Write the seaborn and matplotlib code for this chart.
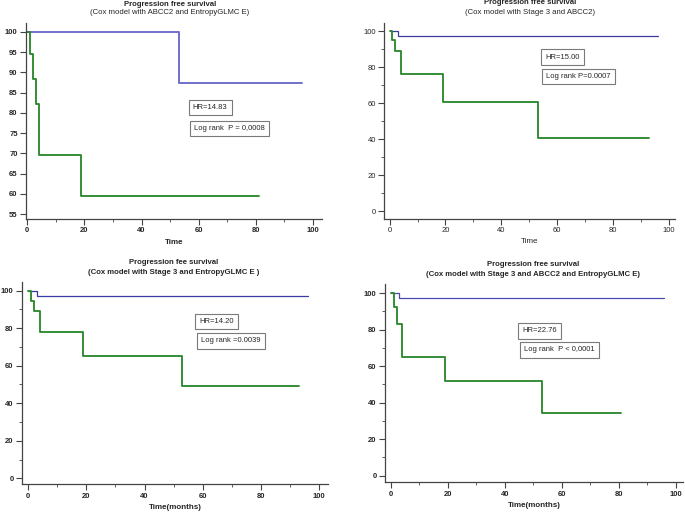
import matplotlib
matplotlib.use("Agg")
import matplotlib.pyplot as plt
import seaborn as sns
from matplotlib.ticker import MultipleLocator

sns.set_style("ticks")
plt.rcParams["font.family"] = ["Liberation Sans", "DejaVu Sans"]

# Kaplan-Meier style step data (time in months, survival %)
times_blue_1 = [0, 53, 96]
surv_blue_1 = [100, 87.5, 87.5]
times_green_1 = [0, 1, 2, 3, 4, 19, 81]
surv_green_1 = [100, 94.5, 88.5, 82.2, 69.6, 59.6, 59.6]

times_blue_2 = [0, 3, 96]
surv_blue_2 = [100, 97.2, 97.2]
times_green_2 = [0, 1, 2, 4, 19, 53, 93]
surv_green_2 = [100, 94.9, 88.7, 76.2, 60.7, 40.6, 40.6]

times_blue_3 = [0, 3, 96]
surv_blue_3 = [100, 97.4, 97.4]
times_green_3 = [0, 1, 2, 4, 19, 53, 93]
surv_green_3 = [100, 94.7, 89.3, 78.2, 65.4, 49.1, 49.1]

times_blue_4 = [0, 3, 96]
surv_blue_4 = [100, 97.5, 97.5]
times_green_4 = [0, 1, 2, 4, 19, 53, 81]
surv_green_4 = [100, 92.3, 83.1, 64.8, 51.9, 34.5, 34.5]

titles = ["Progression free survival", "Progression free survival",
          "Progression fee survival", "Progression free survival"]
subtitles = ["(Cox model with ABCC2 and EntropyGLMC E)",
             "(Cox model with Stage 3 and ABCC2)",
             "(Cox model with Stage 3 and EntropyGLMC E )",
             "(Cox model with Stage 3 and ABCC2 and EntropyGLMC E)"]
hr_texts = ["HR=14.83", "HR=15.00", "HR=14.20", "HR=22.76"]
logrank_texts = ["Log rank  P = 0,0008", "Log rank P=0.0007",
                 "Log rank =0.0039", "Log rank  P < 0,0001"]
xlabels = ["Time", "Time", "Time(months)", "Time(months)"]

panels = [
    (times_blue_1, surv_blue_1, times_green_1, surv_green_1),
    (times_blue_2, surv_blue_2, times_green_2, surv_green_2),
    (times_blue_3, surv_blue_3, times_green_3, surv_green_3),
    (times_blue_4, surv_blue_4, times_green_4, surv_green_4),
]

# layout / style per panel
rects = [[0.038, 0.573, 0.432, 0.382], [0.561, 0.574, 0.424, 0.381],
         [0.032, 0.056, 0.447, 0.395], [0.562, 0.060, 0.435, 0.386]]
xlims = [(-0.4, 103.1), (-1.9, 102.1), (-2.1, 103.0), (-2.1, 102.6)]
ylims = [(53.8, 102.2), (-3.9, 104.4), (-3.2, 104.8), (-3.6, 104.9)]
hr_pos = [(64, 81.3), (62, 85.6), (64.8, 83.5), (52.3, 79.3)]
lr_pos = [(70.7, 76.2), (67.5, 74.7), (69.6, 73.2), (59.1, 68.9)]
title_xy = [(170, 4, 13), (530, 3, 13), (174, 262, 272), (533, 265, 275)]
bold_ticks = [True, False, True, True]
bold_sub = [False, False, True, True]
blue_cols = ["#7070cc", "#3b3ba6", "#3b3ba6", "#4a4ab0"]
blue_lw = [1.4, 0.9, 0.9, 0.9]
green_col = "#2f8a2f"

W, H = 685, 513
fig = plt.figure(figsize=(W / 100, H / 100), dpi=100)

for i, (tb, sb, tg, sg) in enumerate(panels):
    ax = fig.add_axes(rects[i])
    sns.lineplot(x=tb, y=sb, ax=ax, color=blue_cols[i], lw=blue_lw[i],
                 drawstyle="steps-post", estimator=None, sort=False)
    sns.lineplot(x=tg, y=sg, ax=ax, color=green_col, lw=1.35,
                 drawstyle="steps-post", estimator=None, sort=False)
    ax.set_xlim(*xlims[i])
    ax.set_ylim(*ylims[i])
    sns.despine(ax=ax)
    for sp in ["left", "bottom"]:
        ax.spines[sp].set_color("#444444")
        ax.spines[sp].set_linewidth(0.9)

    ax.xaxis.set_major_locator(MultipleLocator(20))
    ax.xaxis.set_minor_locator(MultipleLocator(10))
    if i == 0:
        ax.yaxis.set_major_locator(MultipleLocator(5))
    else:
        ax.yaxis.set_major_locator(MultipleLocator(20))
        ax.yaxis.set_minor_locator(MultipleLocator(10))
    fw = "bold" if bold_ticks[i] else "normal"
    ax.tick_params(which="major", length=4, width=0.8, color="#444444",
                   labelsize=5.5, pad=2)
    ax.tick_params(which="minor", length=2, width=0.6, color="#444444")
    for lab in ax.get_xticklabels() + ax.get_yticklabels():
        lab.set_fontweight(fw)
    ax.set_xlabel(xlabels[i], fontsize=5.8, fontweight=fw, labelpad=3)
    ax.set_ylabel("")

    box = dict(boxstyle="square,pad=0.55", fc="white", ec="#7a7a7a", lw=0.8)
    ax.text(*hr_pos[i], hr_texts[i], ha="center", va="center", fontsize=5.5, bbox=box)
    ax.text(*lr_pos[i], logrank_texts[i], ha="center", va="center", fontsize=5.5, bbox=box)

    tx, ty1, ty2 = title_xy[i]
    fig.text(tx / W, 1 - ty1 / H, titles[i], ha="center", va="center",
             fontsize=5.6, fontweight="bold")
    fig.text(tx / W, 1 - ty2 / H, subtitles[i], ha="center", va="center",
             fontsize=5.6, fontweight="bold" if bold_sub[i] else "normal")

fig.savefig("out.png", dpi=100, facecolor="white")
